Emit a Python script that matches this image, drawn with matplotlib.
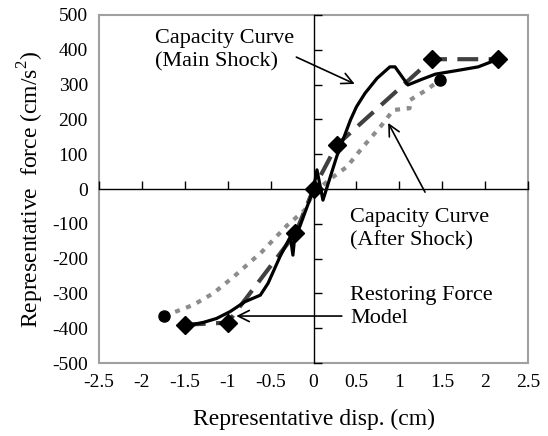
import numpy as np
import matplotlib
matplotlib.use('Agg')
import matplotlib.pyplot as plt

plt.rcParams['font.family'] = ['Liberation Serif', 'DejaVu Serif']
plt.rcParams['mathtext.fontset'] = 'custom'
plt.rcParams['mathtext.rm'] = 'Liberation Serif'
plt.rcParams['axes.unicode_minus'] = False

# capacity curve, main shock
main_x = [-1.48, -1.28, -1.13, -0.97, -0.80, -0.62, -0.53, -0.39, -0.27, -0.24,
          -0.22, -0.16, -0.06, 0.0, 0.04, 0.11, 0.27, 0.43, 0.50, 0.60,
          0.74, 0.89, 0.95, 1.10, 1.26, 1.42, 1.71, 1.92, 2.15]
main_y = [-393, -383, -372, -352, -324, -305, -271, -194, -137, -190,
          -140, -108, -41, 0, 55, -32, 93, 198, 236, 275,
          318, 351, 351, 299, 315, 330, 342, 351, 373]

# capacity curve, after shock
after_x = [-1.74, -1.40, -1.17, -0.93, -0.60, -0.31, -0.10, 0.0, 0.23, 0.39,
           0.58, 0.78, 0.93, 1.12, 1.12, 1.32, 1.47]
after_y = [-365, -333, -300, -252, -180, -105, -60, -10, 35, 64,
           122, 179, 227, 232, 255, 285, 313]

# restoring force model (skeleton)
model_x = [-1.5, -1.0, -0.21, 0.0, 0.27, 1.38, 2.15]
model_y = [-390, -384, -127, 0, 126, 373, 373]

xticks = np.arange(-2.5, 2.51, 0.5)
yticks = np.arange(-500, 501, 100)

fig = plt.figure(figsize=(5.48, 4.36), dpi=100)
pos = [0.1807, 0.1674, 0.7828, 0.7982]
ax = fig.add_axes(pos)

ax.plot(model_x, model_y, color='#404040', lw=3, dashes=(5, 2.5), zorder=2)
ax.plot(model_x, model_y, ls='none', marker='D', ms=9, color='black', zorder=4)
ax.plot(after_x, after_y, color='#8c8c8c', lw=3, dashes=(1.2, 1.6), zorder=2)
ax.plot([after_x[0], after_x[-1]], [after_y[0], after_y[-1]], ls='none',
        marker='o', ms=8, color='black', zorder=4)
ax.plot(main_x, main_y, color='black', lw=2.3, zorder=3)

ax.set_xlim(-2.5, 2.5)
ax.set_ylim(-500, 500)
ax.set_xticks(xticks)
ax.set_yticks(yticks)
ax.set_xticklabels(['%g' % t for t in xticks])
ax.set_yticklabels(['%d' % t for t in yticks])
ax.tick_params(length=0, labelsize=14, pad=8)
for s in ax.spines.values():
    s.set_color('#a0a0a0')
    s.set_linewidth(1.5)
ax.set_xlabel('Representative disp. (cm)', fontsize=17, labelpad=13)
ax.set_ylabel('Representative  force (cm/s$^2$)', fontsize=17, labelpad=4)

# axes through the origin with their ticks
ax2 = fig.add_axes(pos, sharex=ax, sharey=ax)
ax2.patch.set_visible(False)
for side in ['top', 'right']:
    ax2.spines[side].set_visible(False)
ax2.spines['left'].set_position(('data', 0))
ax2.spines['bottom'].set_position(('data', 0))
ax2.spines['left'].set_linewidth(1)
ax2.spines['bottom'].set_linewidth(1)
ax2.tick_params(direction='in', length=6, width=1, labelbottom=False, labelleft=False)

fs = 16
ax.text(-1.85, 399, 'Capacity Curve\n(Main Shock)', fontsize=fs, va='center', linespacing=1.3)
ax.text(0.43, -116, 'Capacity Curve\n(After Shock)', fontsize=fs, va='center', linespacing=1.3)
ax.text(0.43, -340, 'Restoring Force\nModel', fontsize=fs, va='center', linespacing=1.3)

arrow = dict(arrowstyle='->,head_length=0.8,head_width=0.4', color='black', lw=1.2,
             shrinkA=0, shrinkB=0)
ax.annotate('', xy=(0.48, 302), xytext=(-0.20, 379), arrowprops=arrow)
ax.annotate('', xy=(0.87, 190), xytext=(1.30, -9), arrowprops=arrow)
ax.annotate('', xy=(-0.90, -365), xytext=(0.33, -365), arrowprops=arrow)

fig.savefig('out.png', dpi=100)
